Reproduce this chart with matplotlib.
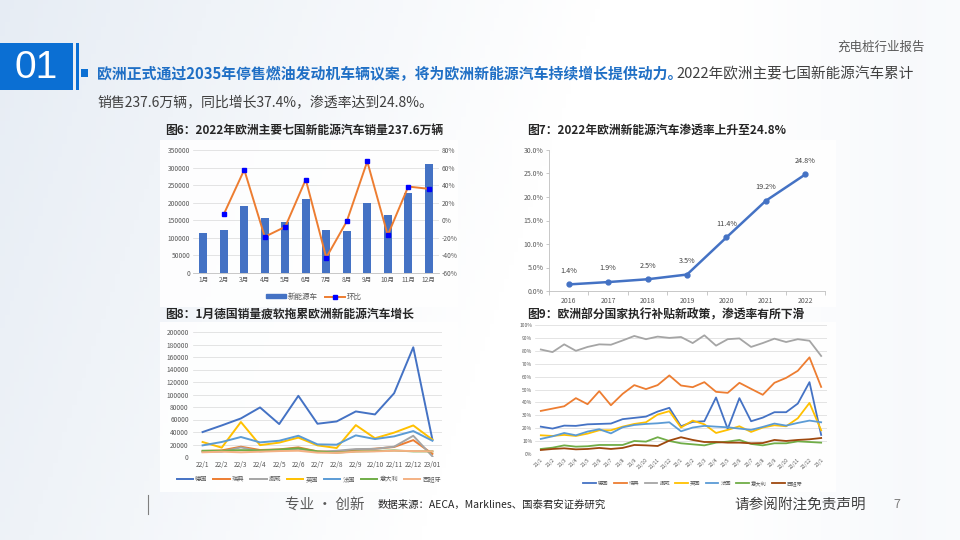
import matplotlib
matplotlib.use('Agg')
import matplotlib.pyplot as plt
import numpy as np
from matplotlib.patches import Rectangle
from matplotlib.lines import Line2D

plt.rcParams['font.family'] = ['Noto Sans CJK SC', 'DejaVu Sans']
plt.rcParams['axes.unicode_minus'] = False

W, H = 960, 540

# ---- data ----
months = ['1月', '2月', '3月', '4月', '5月', '6月', '7月', '8月', '9月', '10月', '11月', '12月']
nev_sales = [113500, 122000, 191800, 155500, 144000, 211800, 121200, 120200, 200400, 165000, 229000, 311000]
mom = [np.nan, 6.8, 57.5, -18.8, -7.4, 46.4, -42.5, -1.3, 67.0, -16.9, 38.4, 35.8]

years = ['2016', '2017', '2018', '2019', '2020', '2021', '2022']
penetration = [1.4, 1.9, 2.5, 3.5, 11.4, 19.2, 24.8]

countries = ['德国', '瑞典', '挪威', '英国', '法国', '意大利', '西班牙']
months8 = ['22/1', '22/2', '22/3', '22/4', '22/5', '22/6', '22/7', '22/8', '22/9', '22/10', '22/11', '22/12', '23/01']
sales8 = {
    '德国': [39900, 50500, 61700, 79300, 52700, 97900, 53200, 56900, 72900, 68100, 102000, 175500, 27700],
    '瑞典': [9600, 10600, 16500, 11200, 12200, 15400, 9000, 8500, 11200, 13300, 16000, 27000, 5000],
    '挪威': [8000, 8500, 15400, 9000, 11000, 13000, 8000, 10000, 12700, 13000, 16500, 34000, 1000],
    '英国': [24000, 15000, 56000, 19000, 23000, 31000, 18600, 14400, 51000, 30000, 39000, 50500, 27700],
    '法国': [18600, 24000, 32000, 23400, 26000, 34000, 20200, 19700, 34600, 28700, 33000, 41500, 26000],
    '意大利': [10000, 10000, 11000, 10500, 12000, 14000, 9000, 7000, 9000, 9500, 10500, 9000, 9000],
    '西班牙': [7500, 8500, 7500, 8500, 9500, 10000, 7000, 6500, 8500, 9000, 10000, 9500, 9000],
}
colors8 = ['#4472C4', '#ED7D31', '#A5A5A5', '#FFC000', '#5B9BD5', '#70AD47', '#F4B183']

months9 = ['21/1', '21/2', '21/3', '21/4', '21/5', '21/6', '21/7', '21/8', '21/9', '21/10', '21/11', '21/12',
           '22/1', '22/2', '22/3', '22/4', '22/5', '22/6', '22/7', '22/8', '22/9', '22/10', '22/11', '22/12', '23/1']
rate9 = {
    '德国': [21.2, 19.7, 22, 21.8, 23, 23.3, 23.6, 27, 28, 29, 32.9, 35.8, 21.5, 24.9, 25.4, 43.8, 19.4, 43.3, 25.4, 28.2, 32.4, 32.4, 39.1, 55.7, 14.8],
    '瑞典': [33.4, 35.2, 37, 43.3, 38.6, 48.7, 37.8, 46.6, 53.4, 50.3, 53.4, 60.9, 53.1, 51.8, 55.7, 48.2, 47.4, 55.2, 50.5, 45.9, 55.2, 59, 64.5, 74.9, 52],
    '挪威': [81, 79, 85, 80, 83, 85, 84.7, 88, 91.5, 89, 91, 90, 90.7, 86, 92, 84, 89, 89.6, 83, 86, 89.4, 86.8, 89, 87.8, 76],
    '英国': [14.5, 14, 14.8, 14, 15.8, 18.4, 18.4, 21.2, 23.3, 24.6, 30.6, 33.2, 20.5, 25.9, 23, 16.3, 18.7, 21.5, 17.1, 20.5, 22.3, 21.5, 27.7, 39.6, 18.4],
    '法国': [11.7, 13.7, 16.3, 14.5, 17.4, 19.2, 16, 20.7, 22.5, 23.3, 23.8, 24.6, 17.6, 20.5, 21.8, 21.2, 20.7, 19.7, 18.7, 21, 23.6, 22, 24.1, 25.9, 24.6],
    '意大利': [3.9, 4.9, 6.7, 5.7, 6, 7, 7, 7, 10.1, 9.6, 13, 10.1, 8.3, 7.5, 6.7, 8.8, 9.6, 10.9, 7.8, 6.7, 8.3, 8.3, 9.8, 9.3, 8.8],
    '西班牙': [3.1, 3.9, 4.4, 3.6, 3.9, 4.7, 3.9, 4.7, 7, 6.7, 6.2, 10.4, 13, 10.9, 9.3, 9.3, 8.8, 8.8, 8.3, 8.5, 10.9, 10.1, 10.9, 11.4, 12.4],
}
colors9 = ['#4472C4', '#ED7D31', '#A5A5A5', '#FFC000', '#5B9BD5', '#70AD47', '#9E480E']


def rect(x0, y0, x1, y1):
    # pixel box (top-left origin) -> figure fraction
    return [x0 / W, 1 - y1 / H, (x1 - x0) / W, (y1 - y0) / H]


fig = plt.figure(figsize=(9.6, 5.4), dpi=100)

# background
bg = fig.add_axes([0, 0, 1, 1])
bg.set_xlim(0, W)
bg.set_ylim(H, 0)
bg.axis('off')
gx = np.linspace(0, 1, 200)
gy = np.linspace(0, 1, 120)
GX, GY = np.meshgrid(gx, gy)
shade = np.clip(1 - 1.6 * GX - 0.3 * GY, 0, 1) * 0.6 + np.clip(0.6 - np.abs(GX - 0.95) * 3, 0, 1) * 0.3
base = np.array([1.0, 1.0, 1.0])
tint = np.array([0.84, 0.88, 0.93])
img = base[None, None, :] * (1 - shade[..., None]) + tint[None, None, :] * shade[..., None]
bg.imshow(img, extent=[0, W, H, 0], aspect='auto', zorder=0)

# white panels
for (x0, y0, x1, y1) in [(160, 140, 458, 307), (512, 140, 836, 307), (160, 322, 458, 492), (515, 322, 836, 492)]:
    bg.add_patch(Rectangle((x0, y0), x1 - x0, y1 - y0, facecolor='white', edgecolor='none', alpha=0.9, zorder=1))

blue = '#0B6FD3'
bg.add_patch(Rectangle((0, 43), 73, 47, facecolor=blue, edgecolor='none', zorder=2))
bg.add_patch(Rectangle((76, 43), 3, 47, facecolor=blue, edgecolor='none', zorder=2))
bg.add_patch(Rectangle((81, 69), 7, 8, facecolor=blue, edgecolor='none', zorder=2))
bg.text(36, 68, '01', color='white', fontsize=28, ha='center', va='center', family='Liberation Sans', zorder=3)
bg.text(925, 47, '充电桩行业报告', color='#595959', fontsize=9, ha='right', va='center', zorder=3)

t1 = bg.text(97, 74, '欧洲正式通过2035年停售燃油发动机车辆议案，将为欧洲新能源汽车持续增长提供动力。',
             color='#1F6FC5', fontsize=10.7, fontweight='bold', ha='left', va='center', zorder=3)
fig.canvas.draw()
bb = t1.get_window_extent()
bg.text(bb.x1 - 6, 74, '2022年欧洲主要七国新能源汽车累计', color='#404040', fontsize=10.5,
        ha='left', va='center', zorder=3)
bg.text(97, 102, '销售237.6万辆，同比增长37.4%，渗透率达到24.8%。', color='#404040', fontsize=10,
        ha='left', va='center', zorder=3)

title_kw = dict(color='#262626', fontsize=8.5, fontweight='bold', ha='left', va='center', zorder=3)
bg.text(165, 130, '图6：2022年欧洲主要七国新能源汽车销量237.6万辆', **title_kw)
bg.text(527, 130, '图7：2022年欧洲新能源汽车渗透率上升至24.8%', **title_kw)
bg.text(165, 314, '图8：1月德国销量疲软拖累欧洲新能源汽车增长', **title_kw)
bg.text(527, 315, '图9：欧洲部分国家执行补贴新政策，渗透率有所下滑', **title_kw)

# footer
bg.plot([148, 148], [495, 514], color='#7f7f7f', lw=0.8, zorder=3)
bg.text(285, 505, '专业 · 创新', color='#595959', fontsize=10.5, ha='left', va='center', zorder=3)
bg.text(378, 505, '数据来源：AECA，Marklines、国泰君安证券研究', color='#262626', fontsize=7.5, ha='left', va='center', zorder=3)
bg.text(866, 505, '请参阅附注免责声明', color='#404040', fontsize=10.5, ha='right', va='center', zorder=3)
bg.text(893, 505, '7', color='#7f7f7f', fontsize=9, ha='left', va='center', zorder=3)

tick_c = '#595959'
grid_c = '#D9D9D9'

# ---- chart 6 ----
ax6 = fig.add_axes(rect(193, 150, 439, 273))
ax6.set_facecolor('none')
x6 = np.arange(len(months))
ax6.bar(x6, nev_sales, width=0.38, color='#4472C4', zorder=2, label='新能源车')
ax6.set_xlim(-0.5, len(months) - 0.5)
ax6.set_ylim(0, 350000)
ax6.set_yticks(np.arange(0, 350001, 50000))
ax6.yaxis.grid(True, color=grid_c, lw=0.5)
ax6.set_axisbelow(True)
ax6.set_xticks(x6)
ax6.set_xticklabels(months)
ax6.tick_params(labelsize=4.8, colors=tick_c, length=0, pad=2)
for s in ['top', 'right', 'left']:
    ax6.spines[s].set_visible(False)
ax6.spines['bottom'].set_color('#BFBFBF')
ax6.spines['bottom'].set_linewidth(0.6)
ax6r = ax6.twinx()
ax6r.plot(x6, mom, color='#ED7D31', lw=1.4, marker='s', ms=3.2, mfc='#0000FF', mec='#0000FF', zorder=3, label='环比')
ax6r.set_ylim(-60, 80)
ax6r.set_yticks(np.arange(-60, 81, 20))
ax6r.set_yticklabels([f'{v}%' for v in range(-60, 81, 20)])
ax6r.tick_params(labelsize=4.8, colors=tick_c, length=0, pad=2)
for s in ax6r.spines.values():
    s.set_visible(False)
h6 = [Rectangle((0, 0), 1, 1, color='#4472C4'),
      Line2D([0], [0], color='#ED7D31', lw=1.4, marker='s', ms=3.2, mfc='#0000FF', mec='#0000FF')]
fig.legend(h6, ['新能源车', '环比'], loc='center', bbox_to_anchor=(314 / W, 1 - 297 / H), ncol=2,
           frameon=False, fontsize=5.4, labelcolor=tick_c, handlelength=2.6, handleheight=0.5,
           columnspacing=1.0, handletextpad=0.3)

# ---- chart 7 ----
ax7 = fig.add_axes(rect(549, 150, 825, 291))
ax7.set_facecolor('none')
x7 = np.arange(len(years))
ax7.plot(x7, penetration, color='#4472C4', lw=1.8, marker='o', ms=3.5, zorder=3)
for xi, v in zip(x7, penetration):
    ax7.annotate(f'{v}%', (xi, v), xytext=(0, 7), textcoords='offset points', ha='center', va='bottom',
                 fontsize=5.2, color='#404040')
ax7.set_xlim(-0.5, len(years) - 0.5)
ax7.set_ylim(0, 30)
ax7.set_yticks(np.arange(0, 30.1, 5))
ax7.set_yticklabels([f'{v:.1f}%' for v in np.arange(0, 30.1, 5)])
ax7.set_xticks(x7)
ax7.set_xticklabels(years)
ax7.set_xticks(np.arange(-0.5, len(years)), minor=True)
ax7.tick_params(axis='x', which='major', length=0, labelsize=5, colors=tick_c, pad=4)
ax7.tick_params(axis='x', which='minor', length=3, color='#BFBFBF', width=0.6)
ax7.tick_params(axis='y', labelsize=5, colors=tick_c, length=2, color='#BFBFBF', width=0.6, pad=2)
for s in ['top', 'right']:
    ax7.spines[s].set_visible(False)
for s in ['left', 'bottom']:
    ax7.spines[s].set_color('#BFBFBF')
    ax7.spines[s].set_linewidth(0.6)

# ---- chart 8 ----
ax8 = fig.add_axes(rect(193, 332, 442, 457))
ax8.set_facecolor('none')
x8 = np.arange(len(months8))
for c, col in zip(countries, colors8):
    ax8.plot(x8, sales8[c], color=col, lw=1.4, label=c, zorder=3)
ax8.set_xlim(-0.5, len(months8) - 0.5)
ax8.set_ylim(0, 200000)
ax8.set_yticks(np.arange(0, 200001, 20000))
ax8.yaxis.grid(True, color=grid_c, lw=0.5)
ax8.set_axisbelow(True)
ax8.set_xticks(x8)
ax8.set_xticklabels(months8)
ax8.tick_params(labelsize=4.8, colors=tick_c, length=0, pad=3)
for s in ax8.spines.values():
    s.set_visible(False)
fig.legend(*ax8.get_legend_handles_labels(), loc='center', bbox_to_anchor=(309 / W, 1 - 479 / H), ncol=7,
           frameon=False, fontsize=4.5, labelcolor=tick_c, handlelength=2.6, columnspacing=0.9, handletextpad=0.4)

# ---- chart 9 ----
ax9 = fig.add_axes(rect(535, 325, 827, 454))
ax9.set_facecolor('none')
x9 = np.arange(len(months9))
for c, col in zip(countries, colors9):
    ax9.plot(x9, rate9[c], color=col, lw=1.3, label=c, zorder=3)
ax9.set_xlim(-0.5, len(months9) - 0.5)
ax9.set_ylim(0, 100)
ax9.set_yticks(np.arange(0, 101, 10))
ax9.set_yticklabels([f'{v}%' for v in range(0, 101, 10)])
ax9.yaxis.grid(True, color=grid_c, lw=0.5)
ax9.set_axisbelow(True)
ax9.set_xticks(x9)
ax9.set_xticklabels(months9, rotation=45, ha='right', rotation_mode='anchor')
ax9.tick_params(labelsize=3.6, colors=tick_c, length=0, pad=2)
for s in ax9.spines.values():
    s.set_visible(False)
fig.legend(*ax9.get_legend_handles_labels(), loc='center', bbox_to_anchor=(693 / W, 1 - 483 / H), ncol=7,
           frameon=False, fontsize=3.8, labelcolor=tick_c, handlelength=2.4, columnspacing=1.0, handletextpad=0.4)

fig.savefig('out.png', dpi=100)
